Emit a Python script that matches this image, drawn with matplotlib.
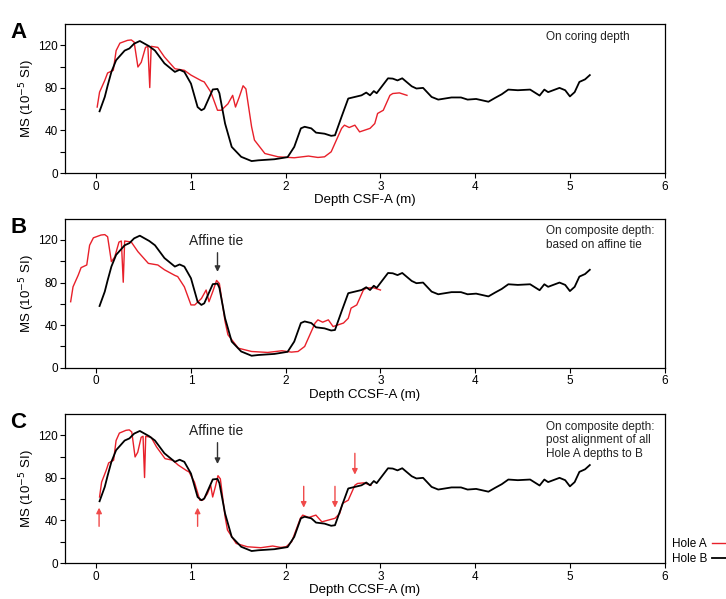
import numpy as np
import matplotlib
matplotlib.use("Agg")
import matplotlib.pyplot as plt

plt.rcParams['font.family'] = ['Liberation Sans', 'DejaVu Sans']

# Hole B magnetic susceptibility (coring depth = composite depth)
depth_b = [0.035, 0.09, 0.12, 0.16, 0.21, 0.30, 0.35, 0.40, 0.46, 0.51, 0.56, 0.62,
           0.72, 0.83, 0.88, 0.93, 1.00, 1.07, 1.11, 1.14, 1.23, 1.28, 1.30, 1.36,
           1.43, 1.53, 1.64, 1.71, 1.88, 2.02, 2.09, 2.16, 2.20, 2.27, 2.32, 2.41,
           2.48, 2.52, 2.59, 2.66, 2.73, 2.80, 2.85, 2.89, 2.93, 2.96, 3.08, 3.13,
           3.18, 3.23, 3.33, 3.38, 3.45, 3.54, 3.61, 3.75, 3.85, 3.92, 4.01, 4.14,
           4.21, 4.28, 4.35, 4.45, 4.58, 4.68, 4.73, 4.77, 4.89, 4.95, 5.00, 5.05,
           5.10, 5.16, 5.21]
ms_b = [58, 71.5, 82, 95, 106, 115, 117, 121.5, 124, 121.5, 119, 115,
        103, 95, 97, 95, 84, 62, 59, 60.5, 78.5, 79, 75, 46.5,
        24.6, 15.3, 11.3, 12, 13, 15, 24.6, 42, 43.5, 42, 38, 37,
        35, 35.5, 53, 70, 71.5, 73, 75.6, 73, 77, 75, 89, 88.7,
        87, 89, 81.5, 79.4, 80, 71.5, 69, 71, 71, 69, 69.6, 67,
        70.6, 74, 78.4, 77.8, 78.4, 72.8, 78.4, 76, 80, 77.8, 72, 76,
        85.6, 88, 92]

# Hole A magnetic susceptibility on coring depth
depth_a = [0.01, 0.035, 0.09, 0.12, 0.18, 0.21, 0.25, 0.33, 0.37, 0.40, 0.44, 0.475,
           0.52, 0.545, 0.565, 0.58, 0.65, 0.72, 0.83, 0.93, 1.00, 1.11, 1.14, 1.21,
           1.28, 1.32, 1.39, 1.44, 1.47, 1.51, 1.55, 1.58, 1.64, 1.67, 1.78, 1.92,
           2.09, 2.24, 2.34, 2.41, 2.48, 2.59, 2.62, 2.67, 2.73, 2.78, 2.89, 2.94,
           2.97, 3.03, 3.10, 3.13, 3.20, 3.28]
ms_a = [62, 76, 87, 94, 96.5, 115, 122, 124.6, 125, 123, 99.6, 104,
        118, 119, 80.3, 119, 118, 109, 98, 96.5, 92, 86.7, 85.6, 76,
        59, 59, 65, 73, 62, 71.5, 82, 79, 43.4, 31, 18.4, 15.3,
        14.4, 16, 14.7, 15.3, 20, 42, 45, 42.8, 45, 38.7, 42, 46.5,
        56, 59, 73, 74.7, 75.3, 73]

# affine offset (Hole A -> composite) and final alignment tie points
affine_shift = -0.28
tie_a = [0.01, 0.44, 0.565, 1.30, 1.55, 2.62, 2.89, 3.10, 3.28]
tie_c = [0.035, 0.41, 0.51, 1.11, 1.285, 2.18, 2.52, 2.73, 2.90]
up_ties = [0.03, 1.07]
down_ties = [2.19, 2.52, 2.73]
affine_tie = 1.28

red = '#e8202a'
arrow_red = '#f04a4a'

depth_a_affine = np.array(depth_a) + affine_shift
depth_a_aligned = np.interp(depth_a, tie_a, tie_c)

fig = plt.figure(figsize=(7.26, 5.99), dpi=100)
ax_pos = [0.0895, 0.826]
bottoms = [0.711, 0.386, 0.060]
height = 0.249

panels = [
    ('A', depth_a, 'Depth CSF-A (m)', 'On coring depth'),
    ('B', depth_a_affine, 'Depth CCSF-A (m)', 'On composite depth:\nbased on affine tie'),
    ('C', depth_a_aligned, 'Depth CCSF-A (m)',
     'On composite depth:\npost alignment of all\nHole A depths to B'),
]

axes = []
for (letter, xa, xlabel, note), b in zip(panels, bottoms):
    ax = fig.add_axes([ax_pos[0], b, ax_pos[1], height])
    ax.plot(xa, ms_a, color=red, lw=1.0, label='Hole A')
    ax.plot(depth_b, ms_b, color='black', lw=1.3, label='Hole B')
    ax.set_xlim(-0.33, 6)
    ax.set_ylim(0, 140)
    ax.set_xticks(range(0, 7))
    ax.set_yticks([0, 40, 80, 120])
    ax.set_yticks([20, 60, 100], minor=True)
    ax.tick_params(labelsize=8.5, length=3.5, width=0.8, pad=1.5, direction='out')
    ax.tick_params(which='minor', length=3.5, width=0.8)
    ax.tick_params(axis='x', pad=2)
    for s in ax.spines.values():
        s.set_linewidth(0.9)
    ax.set_xlabel(xlabel, fontsize=9.5, labelpad=1)
    ax.set_ylabel('MS (10$^{-5}$ SI)', fontsize=9.5, labelpad=1)
    ax.text(0.802, 0.955, note, transform=ax.transAxes, fontsize=8.5,
            va='top', ha='left', color='#222222', linespacing=1.2)
    fig.text(0.014, b + height + 0.003, letter, fontsize=16, fontweight='bold',
             va='top', ha='left')
    axes.append(ax)

# affine tie annotations
for ax, (y0, y1, yt) in zip(axes[1:], [(108, 90, 119), (113, 93, 124)]):
    ax.annotate('', xy=(affine_tie, y1), xytext=(affine_tie, y0),
                arrowprops=dict(arrowstyle='-|>', color='#333333', lw=1.0,
                                mutation_scale=8, shrinkA=0, shrinkB=0))
    ax.text(affine_tie - 0.01, yt, 'Affine tie', fontsize=10, ha='center',
            va='center', color='#222222')

ax_c = axes[2]
for d in up_ties:
    ax_c.annotate('', xy=(d, 52), xytext=(d, 34.5),
                  arrowprops=dict(arrowstyle='-|>', color=arrow_red, lw=1.0,
                                  mutation_scale=8, shrinkA=0, shrinkB=0))
for d in down_ties[:2]:
    ax_c.annotate('', xy=(d, 52), xytext=(d, 72),
                  arrowprops=dict(arrowstyle='-|>', color=arrow_red, lw=1.0,
                                  mutation_scale=8, shrinkA=0, shrinkB=0))
ax_c.annotate('', xy=(down_ties[2], 83), xytext=(down_ties[2], 103),
              arrowprops=dict(arrowstyle='-|>', color=arrow_red, lw=1.0,
                              mutation_scale=8, shrinkA=0, shrinkB=0))

fig.legend(*ax_c.get_legend_handles_labels(), loc='center left',
           bbox_to_anchor=(0.925, 0.079), frameon=False, markerfirst=False,
           fontsize=8.5, handlelength=1.4, handletextpad=0.4, labelspacing=0.3,
           borderpad=0, borderaxespad=0)

fig.savefig('out.png', dpi=100)
